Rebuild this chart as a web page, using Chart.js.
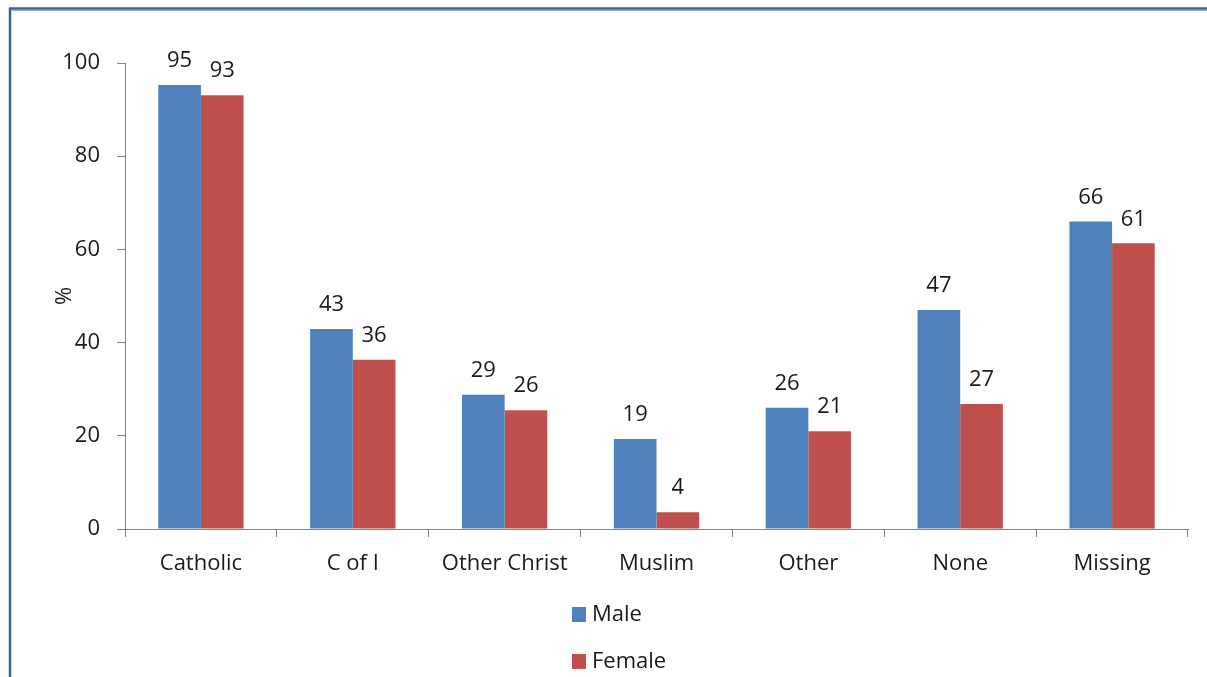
<!DOCTYPE html>
<html>
<head>
<meta charset="utf-8">
<script src="https://cdn.jsdelivr.net/npm/chart.js@4/dist/chart.umd.min.js"></script>
<style>
  html, body { margin: 0; padding: 0; background: #ffffff; }
  #wrap { position: relative; width: 1207px; height: 677px; }
</style>
</head>
<body>
<div id="wrap"><canvas id="c" width="1207" height="677"></canvas></div>
<script>
const categories = ["Catholic", "C of I", "Other Christ", "Muslim", "Other", "None", "Missing"];
const maleValues = [95.3, 42.9, 28.8, 19.3, 26.0, 47.0, 66.0];
const femaleValues = [93.1, 36.3, 25.5, 3.6, 21.0, 26.8, 61.3];
const seriesNames = ["Male", "Female"];
const yTicks = [0, 20, 40, 60, 80, 100];

const FONT = "'Open Sans', 'Liberation Sans', sans-serif";
const TEXT = "#1a1a1a";
const FS = 22;

const frame = {
  id: 'frame',
  beforeDraw(chart) {
    const ctx = chart.ctx;
    ctx.save();
    ctx.fillStyle = '#ffffff';
    ctx.fillRect(0, 0, chart.width, chart.height);
    ctx.strokeStyle = '#3A6394';
    ctx.lineWidth = 2.5;
    ctx.beginPath();
    ctx.moveTo(9, 8.5);
    ctx.lineTo(chart.width, 8.5);
    ctx.moveTo(10, 8);
    ctx.lineTo(10, chart.height);
    ctx.stroke();
    ctx.strokeStyle = '#8FA9CB';
    ctx.lineWidth = 1;
    ctx.beginPath();
    ctx.moveTo(11.5, 10.5);
    ctx.lineTo(chart.width, 10.5);
    ctx.stroke();
    ctx.restore();
  }
};

const valueLabels = {
  id: 'valueLabels',
  afterDatasetsDraw(chart) {
    const ctx = chart.ctx;
    ctx.save();
    ctx.font = FS + "px " + FONT;
    ctx.fillStyle = TEXT;
    ctx.textAlign = 'center';
    ctx.textBaseline = 'middle';
    chart.data.datasets.forEach((ds, di) => {
      const meta = chart.getDatasetMeta(di);
      meta.data.forEach((el, i) => {
        ctx.fillText(String(Math.round(ds.data[i])), el.x, el.y - 24);
      });
    });
    ctx.restore();
  }
};

const stackedLegend = {
  id: 'stackedLegend',
  afterDraw(chart) {
    const ctx = chart.ctx;
    const rows = [615, 662];
    ctx.save();
    ctx.font = FS + "px " + FONT;
    ctx.textAlign = 'left';
    ctx.textBaseline = 'middle';
    chart.data.datasets.forEach((ds, di) => {
      const cy = rows[di];
      ctx.fillStyle = ds.backgroundColor;
      ctx.fillRect(572, cy - 8, 14, 15);
      ctx.fillStyle = TEXT;
      ctx.fillText(ds.label, 592, cy);
    });
    ctx.restore();
  }
};

new Chart(document.getElementById('c'), {
  type: 'bar',
  data: {
    labels: categories,
    datasets: [
      { label: seriesNames[0], data: maleValues, backgroundColor: '#4F81BD', borderWidth: 0 },
      { label: seriesNames[1], data: femaleValues, backgroundColor: '#C0504D', borderWidth: 0 }
    ]
  },
  options: {
    responsive: false,
    animation: false,
    devicePixelRatio: 1,
    layout: { padding: { left: 36, right: 19, top: 63, bottom: 0 } },
    datasets: { bar: { categoryPercentage: 0.5618, barPercentage: 1.0 } },
    plugins: {
      legend: { display: false },
      tooltip: { enabled: false }
    },
    scales: {
      x: {
        grid: { display: true, drawOnChartArea: false, drawTicks: true, tickLength: 8, color: '#868686', offset: true },
        border: { display: true, color: '#868686', width: 1 },
        ticks: { color: TEXT, font: { family: FONT, size: FS }, padding: 14, maxRotation: 0 },
        afterFit(scale) { scale.height = 148; }
      },
      y: {
        min: 0, max: 100,
        afterBuildTicks(scale) { scale.ticks = yTicks.map(v => ({ value: v })); },
        grid: { display: true, drawOnChartArea: false, drawTicks: true, tickLength: 8, color: '#868686' },
        border: { display: true, color: '#868686', width: 1 },
        ticks: { color: TEXT, font: { family: FONT, size: FS }, padding: 17 },
        title: { display: true, text: '%', color: TEXT, font: { family: FONT, size: FS }, padding: { top: 16, bottom: 0 } },
        afterFit(scale) { scale.width = 89; }
      }
    }
  },
  plugins: [frame, valueLabels, stackedLegend]
});
</script>
</body>
</html>
